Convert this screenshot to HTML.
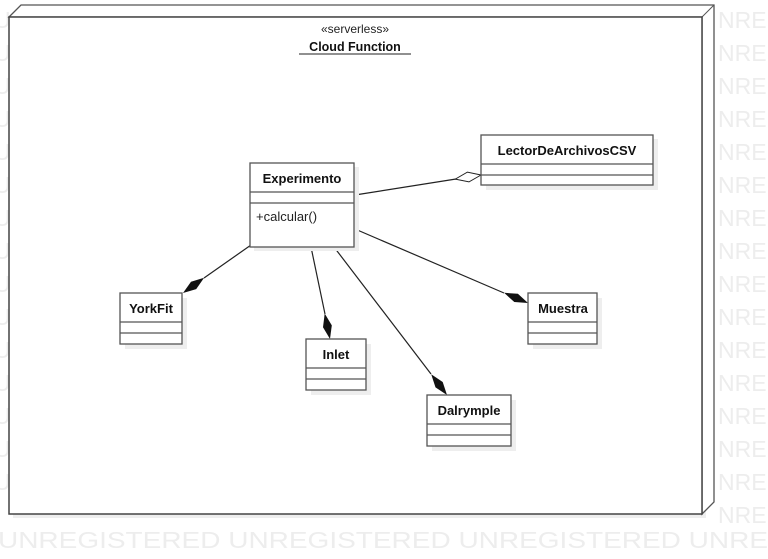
<!DOCTYPE html>
<html><head><meta charset="utf-8"><style>
body{margin:0;background:#fff;width:768px;height:559px;overflow:hidden}
svg{display:block}
text{font-family:"Liberation Sans",sans-serif}
.wm{fill:#ededed;font-size:23px}
.b{font-weight:bold;font-size:13px;fill:#111}
</style></head><body>
<svg width="768" height="559" xmlns="http://www.w3.org/2000/svg">
<g class="wm">
<text x="-6" y="28">U</text><text x="-6" y="61">U</text><text x="-6" y="94">U</text><text x="-6" y="127">U</text><text x="-6" y="160">U</text><text x="-6" y="193">U</text><text x="-6" y="226">U</text><text x="-6" y="259">U</text><text x="-6" y="292">U</text><text x="-6" y="325">U</text><text x="-6" y="358">U</text><text x="-6" y="391">U</text><text x="-6" y="424">U</text><text x="-6" y="457">U</text><text x="-6" y="490">U</text>
<text x="718" y="28">NRE</text><text x="718" y="61">NRE</text><text x="718" y="94">NRE</text><text x="718" y="127">NRE</text><text x="718" y="160">NRE</text><text x="718" y="193">NRE</text><text x="718" y="226">NRE</text><text x="718" y="259">NRE</text><text x="718" y="292">NRE</text><text x="718" y="325">NRE</text><text x="718" y="358">NRE</text><text x="718" y="391">NRE</text><text x="718" y="424">NRE</text><text x="718" y="457">NRE</text><text x="718" y="490">NRE</text><text x="718" y="523">NRE</text>
<text x="-2" y="548" textLength="770" lengthAdjust="spacingAndGlyphs">UNREGISTERED UNREGISTERED UNREGISTERED UNRE</text>
</g>
<rect x="13" y="21" width="693" height="497" fill="#eee"/>
<polygon points="9,17 21,5 714,5 714,502 702,514 702,17" fill="#fff" stroke="#555" stroke-width="1.3"/>
<line x1="702" y1="17" x2="714" y2="5" stroke="#555"/>
<rect x="9" y="17" width="693" height="497" fill="#fff" stroke="#444" stroke-width="1.5"/>
<text x="355" y="33" text-anchor="middle" font-size="12" fill="#222">«serverless»</text>
<text x="355" y="51" text-anchor="middle" class="b" style="font-size:12.5px">Cloud Function</text>
<line x1="299" y1="54" x2="411" y2="54" stroke="#222"/>
<g stroke="#222" stroke-width="1.2" fill="none">
<line x1="355" y1="195" x2="456" y2="179"/>
<line x1="251" y1="245" x2="204" y2="278"/>
<line x1="311" y1="247" x2="325" y2="314"/>
<line x1="334" y1="247" x2="431" y2="374"/>
<line x1="355" y1="229" x2="504" y2="293"/>
</g>
<polygon points="481,175 469,181.9 455.3,179.1 467.4,172.1" fill="#fff" stroke="#222"/>
<polygon points="183,293 196.2,289.1 204.1,277.8 191,281.7" fill="#111"/>
<polygon points="330,339 331.8,325.4 324.7,313.5 323,327.2" fill="#111"/>
<polygon points="447,395 442.7,382 431.2,374.3 435.5,387.4" fill="#111"/>
<polygon points="528,303 517.9,293.8 504.1,292.8 514.3,302" fill="#111"/>
<g fill="#eee">
<rect x="254" y="167" width="105" height="84"/><rect x="486" y="139" width="172" height="51"/>
<rect x="125" y="298" width="62" height="51"/><rect x="311" y="344" width="60" height="51"/>
<rect x="432" y="400" width="84" height="51"/><rect x="533" y="298" width="69" height="51"/>
</g>
<g fill="#fff" stroke="#555" stroke-width="1.3">
<rect x="250" y="163" width="104" height="84"/><line x1="250" y1="192" x2="354" y2="192"/><line x1="250" y1="203" x2="354" y2="203"/>
<rect x="481" y="135" width="172" height="50"/><line x1="481" y1="164" x2="653" y2="164"/><line x1="481" y1="175" x2="653" y2="175"/>
<rect x="120" y="293" width="62" height="51"/><line x1="120" y1="322" x2="182" y2="322"/><line x1="120" y1="333" x2="182" y2="333"/>
<rect x="306" y="339" width="60" height="51"/><line x1="306" y1="368" x2="366" y2="368"/><line x1="306" y1="379" x2="366" y2="379"/>
<rect x="427" y="395" width="84" height="51"/><line x1="427" y1="424" x2="511" y2="424"/><line x1="427" y1="435" x2="511" y2="435"/>
<rect x="528" y="293" width="69" height="51"/><line x1="528" y1="322" x2="597" y2="322"/><line x1="528" y1="333" x2="597" y2="333"/>
</g>
<text x="302" y="183" text-anchor="middle" class="b">Experimento</text>
<text x="256" y="221" font-size="13" fill="#222">+calcular()</text>
<text x="567" y="155" text-anchor="middle" class="b">LectorDeArchivosCSV</text>
<text x="151" y="313" text-anchor="middle" class="b">YorkFit</text>
<text x="336" y="359" text-anchor="middle" class="b">Inlet</text>
<text x="469" y="415" text-anchor="middle" class="b">Dalrymple</text>
<text x="563" y="313" text-anchor="middle" class="b">Muestra</text>
</svg>
</body></html>
